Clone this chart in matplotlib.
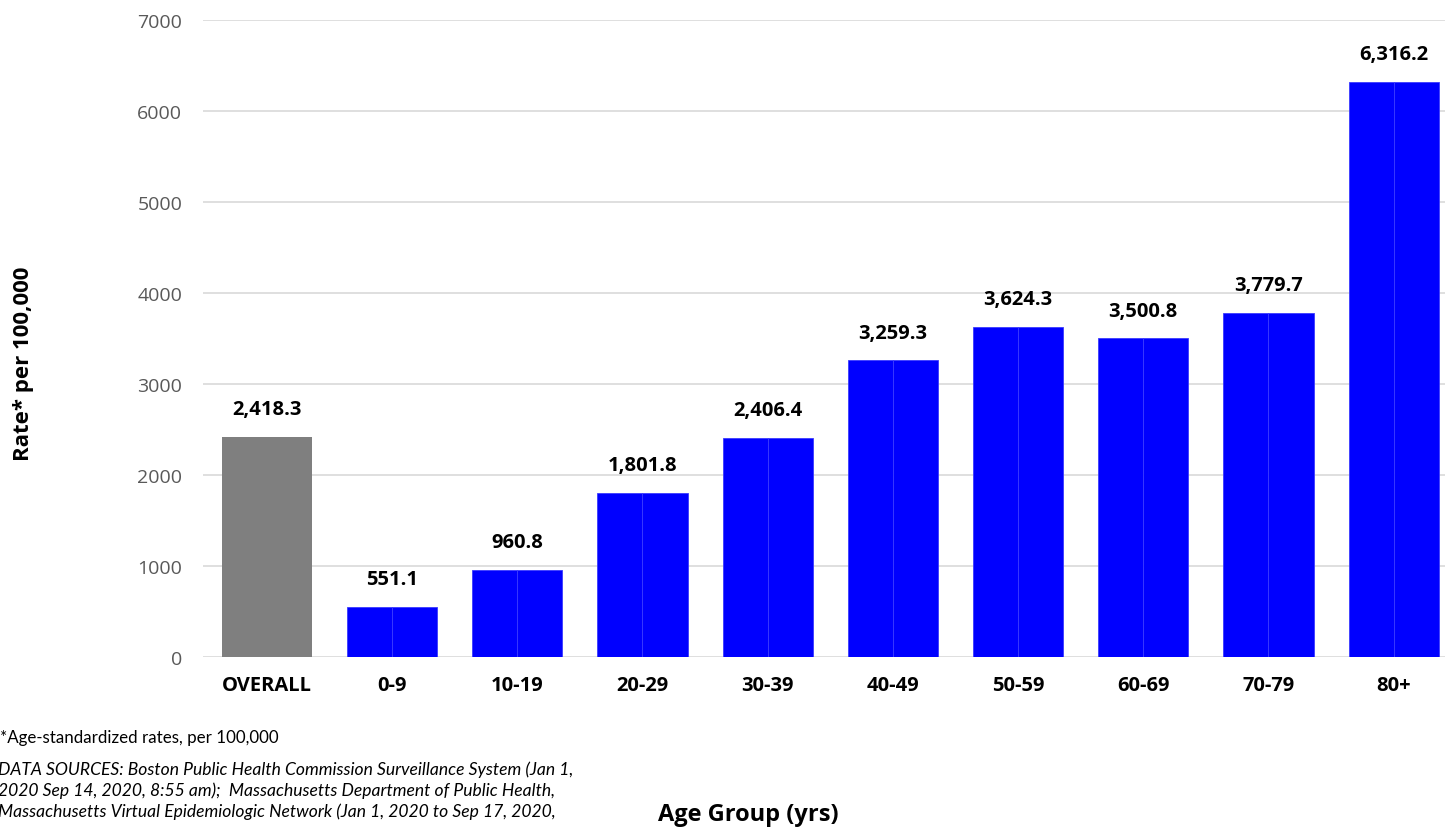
import matplotlib.pyplot as plt
import numpy as np

# age groups and rates
categories = ["OVERALL", "0-9", "10-19", "20-29", "30-39", "40-49", "50-59", "60-69", "70-79", "80+"]
rates = [2418.3, 551.1, 960.8, 1801.8, 2406.4, 3259.3, 3624.3, 3500.8, 3779.7, 6316.2]
yticks = [0, 1000, 2000, 3000, 4000, 5000, 6000, 7000]

W, H = 1445, 829
fig = plt.figure(figsize=(W / 100, H / 100), dpi=100)
ax = fig.add_axes([203 / W, 1 - 658 / H, 1 - 203 / W, (658 - 21) / H])

x = np.arange(len(categories))
bold = "Open Sans"

# overall bar in gray
ax.bar(x[0], rates[0], width=0.72, color="#7f7f7f", zorder=2)

# age group bars drawn as two halves (as in the original)
hw = 0.36
ax.bar(x[1:] - hw / 2, rates[1:], width=hw, color="#0000ff", edgecolor="#3a3aff", linewidth=0.6, zorder=2)
ax.bar(x[1:] + hw / 2, rates[1:], width=hw, color="#0000ff", edgecolor="#3a3aff", linewidth=0.6, zorder=2)

for xi, v in zip(x, rates):
    ax.annotate(f"{v:,.1f}", (xi, v), xytext=(0, 20), textcoords="offset points",
                ha="center", va="center", fontsize=14.5, fontweight="bold",
                family=bold, color="black")

ax.set_xlim(-0.51, 9.41)
ax.set_ylim(0, 7000)
ax.set_yticks(yticks)
ax.set_yticklabels([str(t) for t in yticks], fontsize=14, color="#595959", family="Open Sans")
ax.set_xticks(x)
ax.set_xticklabels(categories, fontsize=14.5, fontweight="bold", family=bold)
ax.tick_params(axis="both", length=0)
ax.tick_params(axis="y", pad=15)
ax.tick_params(axis="x", pad=13)
ax.grid(axis="y", color="#d9d9d9", linewidth=1.2, zorder=0)
for s in ax.spines.values():
    s.set_visible(False)

fig.text(24 / W, 1 - 364 / H, "Rate* per 100,000", rotation=90, ha="center", va="center",
         fontsize=16, fontweight="bold", family=bold)
fig.text(748 / W, 1 - 815 / H, "Age Group (yrs)", ha="center", va="center",
         fontsize=17, fontweight="bold", family=bold)

fig.text(0, 1 - 738 / H, "*Age-standardized rates, per 100,000", ha="left", va="center",
         fontsize=12.2, family="Lato")
src = ["DATA SOURCES: Boston Public Health Commission Surveillance System (Jan 1,",
       "2020 Sep 14, 2020, 8:55 am);  Massachusetts Department of Public Health,",
       "Massachusetts Virtual Epidemiologic Network (Jan 1, 2020 to Sep 17, 2020,"]
for i, line in enumerate(src):
    fig.text(-2 / W, 1 - (770 + 21 * i) / H, line, ha="left", va="center",
             fontsize=12.6, style="italic", family="Lato")

fig.savefig("out.png", dpi=100)
